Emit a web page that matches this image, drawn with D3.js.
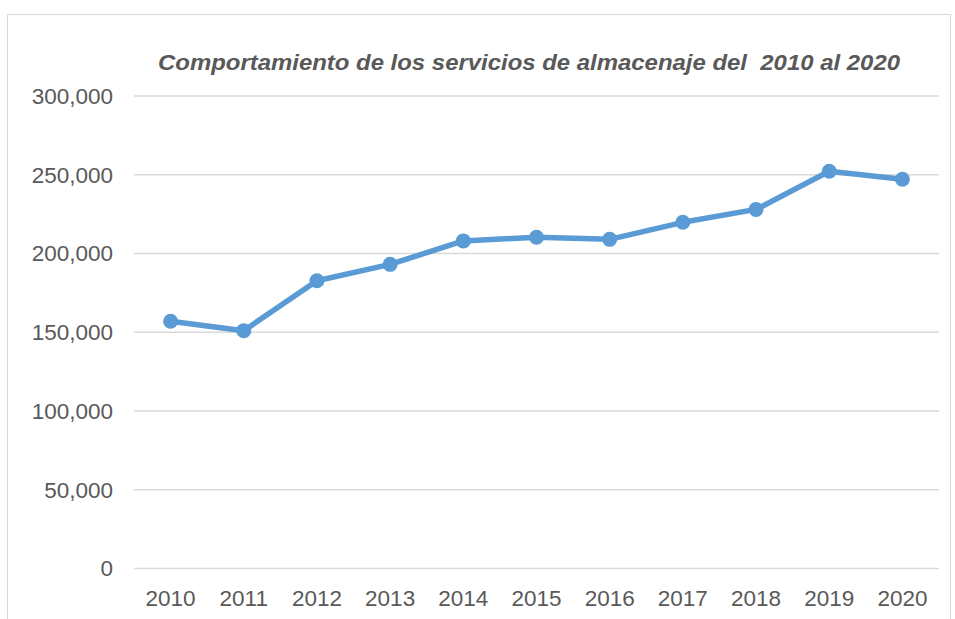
<!DOCTYPE html>
<html>
<head>
<meta charset="utf-8">
<script src="https://cdn.jsdelivr.net/npm/d3@7"></script>
<style>
  body { margin: 0; background: #fff; }
  svg text { font-family: "Liberation Sans", Arial, sans-serif; fill: #595959; }
</style>
</head>
<body>
<svg id="chart" width="955" height="619"></svg>
<script>
const years = ["2010","2011","2012","2013","2014","2015","2016","2017","2018","2019","2020"];
const values = [157000, 151000, 182700, 193100, 208000, 210300, 209000, 219800, 228000, 252200, 247100];
const yTicks = [0, 50000, 100000, 150000, 200000, 250000, 300000];
const title = "Comportamiento de los servicios de almacenaje del  2010 al 2020";

const svg = d3.select("#chart");

// chart frame
svg.append("rect")
    .attr("x", 7.5).attr("y", 14.5)
    .attr("width", 943).attr("height", 700)
    .attr("fill", "#fff")
    .attr("stroke", "#d9d9d9")
    .attr("stroke-width", 1);

const x = d3.scaleBand().domain(years).range([134, 939]);
const y = d3.scaleLinear().domain([0, 300000]).range([568.5, 96]);

// gridlines
svg.append("g").selectAll("line").data(yTicks).join("line")
    .attr("x1", 134).attr("x2", 939)
    .attr("y1", d => y(d)).attr("y2", d => y(d))
    .attr("stroke", "#d9d9d9").attr("stroke-width", 1.3);

// y labels
const fmt = d3.format(",");
svg.append("g").selectAll("text").data(yTicks).join("text")
    .attr("x", 113).attr("y", d => y(d))
    .attr("dy", "0.35em")
    .attr("text-anchor", "end")
    .attr("font-size", 22.5)
    .text(d => fmt(d));

// x labels
svg.append("g").selectAll("text").data(years).join("text")
    .attr("x", d => x(d) + x.bandwidth()/2).attr("y", 606)
    .attr("text-anchor", "middle")
    .attr("font-size", 22.5)
    .text(d => d);

// title
svg.append("text")
    .attr("x", 158).attr("y", 70)
    .attr("font-size", 22)
    .attr("font-weight", "bold")
    .attr("font-style", "italic")
    .attr("textLength", 742)
    .attr("lengthAdjust", "spacingAndGlyphs")
    .style("white-space", "pre")
    .text(title);

const pts = years.map((yr, i) => ({yr, v: values[i]}));
const line = d3.line().x(d => x(d.yr) + x.bandwidth()/2).y(d => y(d.v));

svg.append("path").datum(pts)
    .attr("d", line)
    .attr("fill", "none")
    .attr("stroke", "#5b9bd5")
    .attr("stroke-width", 5.5)
    .attr("stroke-linejoin", "round");

svg.append("g").selectAll("circle").data(pts).join("circle")
    .attr("cx", d => x(d.yr) + x.bandwidth()/2)
    .attr("cy", d => y(d.v))
    .attr("r", 7.5)
    .attr("fill", "#5b9bd5");
</script>
</body>
</html>
